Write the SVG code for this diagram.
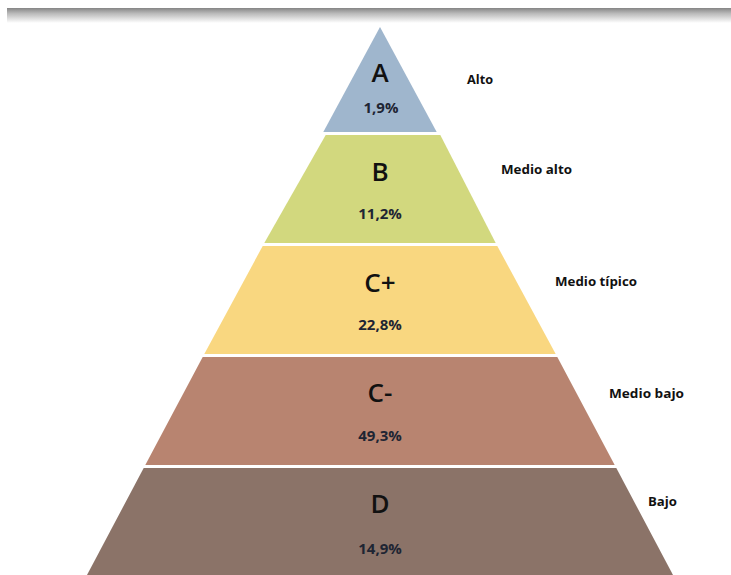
<svg xmlns="http://www.w3.org/2000/svg" width="731" height="575" viewBox="0 0 731 575">
<defs>
<linearGradient id="bar" x1="0" y1="0" x2="0" y2="1">
<stop offset="0" stop-color="#858585"/>
<stop offset="0.35" stop-color="#b8b8b8"/>
<stop offset="1" stop-color="#ffffff"/>
</linearGradient>
<style>
.lvl{font-family:"Open Sans","Liberation Sans",sans-serif;font-size:26px;font-weight:600;fill:#111;text-anchor:middle}
.pct{font-family:"Open Sans","Liberation Sans",sans-serif;font-size:15px;font-weight:700;fill:#1e2533;text-anchor:middle}
.lab{font-family:"Open Sans","Liberation Sans",sans-serif;font-size:12.5px;font-weight:700;fill:#111}
</style>
</defs>
<rect width="731" height="575" fill="#ffffff"/>
<rect x="7" y="8" width="724" height="15" fill="url(#bar)"/>
<g id="layer-A">
<polygon points="380,27 436.7,132 323.3,132" fill="#9fb6cd"/>
<text class="lvl" x="380" y="82">A</text>
<text class="pct" x="381" y="113">1,9%</text>
</g>
<g id="layer-B">
<polygon points="325.7,135 440.3,135 495.7,243 264.3,243" fill="#d2d87e"/>
<text class="lvl" x="380" y="181">B</text>
<text class="pct" x="380" y="219">11,2%</text>
</g>
<g id="layer-Cplus">
<polygon points="262.7,246 497.3,246 555.7,354 204.3,354" fill="#f9d780"/>
<text class="lvl" x="380" y="292">C+</text>
<text class="pct" x="380" y="330">22,8%</text>
</g>
<g id="layer-Cminus">
<polygon points="202.7,357 557.3,357 614.7,465 145.3,465" fill="#b88470"/>
<text class="lvl" x="380" y="402">C-</text>
<text class="pct" x="380" y="441">49,3%</text>
</g>
<g id="layer-D">
<polygon points="143.7,468 616.3,468 673,575 87,575" fill="#8b7368"/>
<text class="lvl" x="380" y="513">D</text>
<text class="pct" x="380" y="554">14,9%</text>
</g>
<g id="labels">
<text class="lab" x="467" y="84" textLength="26" lengthAdjust="spacingAndGlyphs">Alto</text>
<text class="lab" x="501" y="174" textLength="71" lengthAdjust="spacingAndGlyphs">Medio alto</text>
<text class="lab" x="555" y="286" textLength="82" lengthAdjust="spacingAndGlyphs">Medio típico</text>
<text class="lab" x="609" y="398" textLength="75" lengthAdjust="spacingAndGlyphs">Medio bajo</text>
<text class="lab" x="648" y="506" textLength="29" lengthAdjust="spacingAndGlyphs">Bajo</text>
</g>
</svg>
